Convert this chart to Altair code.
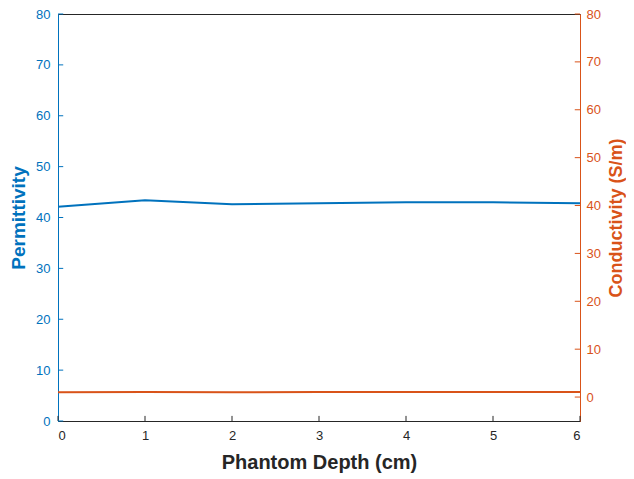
import altair as alt
import pandas as pd

depth = [0, 1, 2, 3, 4, 5, 6]
permittivity = [42.1, 43.4, 42.6, 42.8, 43.0, 43.0, 42.8]
conductivity = [1.0, 1.05, 1.0, 1.05, 1.05, 1.05, 1.05]
y_ticks = [0, 10, 20, 30, 40, 50, 60, 70, 80]

df = pd.DataFrame({"depth": depth, "perm": permittivity, "cond": conductivity})
# inward tick marks (length expressed in data units of each scale)
xt = pd.DataFrame({"depth": depth, "y0": [0] * len(depth), "y1": [1.0] * len(depth)})
yt_left = pd.DataFrame({"v": y_ticks, "x0": [0.0] * len(y_ticks), "x1": [0.06] * len(y_ticks)})
yt_right = pd.DataFrame({"v": y_ticks, "x0": [6.0] * len(y_ticks), "x1": [5.94] * len(y_ticks)})

BLUE = "#0072BD"
ORANGE = "#D95319"
DARK = "#262626"
FONT = "Liberation Sans"

xscale = alt.Scale(domain=[0, 6], nice=False)
xaxis = alt.Axis(title="Phantom Depth (cm)", values=depth, format="d",
                 grid=False, domainColor=DARK, labelColor=DARK, ticks=False,
                 labelPadding=8, labelFontSize=13, titleFontSize=20,
                 titleFontWeight="bold", titleColor=DARK, titlePadding=10,
                 labelFont=FONT, titleFont=FONT)
lscale = alt.Scale(domain=[0, 80], nice=False)
laxis = alt.Axis(title="Permittivity", orient="left", values=y_ticks,
                 grid=False, domainColor=BLUE, labelColor=BLUE, ticks=False,
                 labelPadding=8, labelFontSize=13, titleFontSize=19,
                 titleFontWeight="bold", titleColor=BLUE, titlePadding=7,
                 labelFont=FONT, titleFont=FONT)
rscale = alt.Scale(domain=[-5, 80], nice=False)
raxis = alt.Axis(title="Conductivity (S/m)", orient="right", values=y_ticks,
                 grid=False, domainColor=ORANGE, labelColor=ORANGE, ticks=False,
                 labelPadding=6, labelFontSize=13, titleFontSize=18,
                 titleFontWeight="bold", titleColor=ORANGE, titlePadding=7,
                 titleAngle=270, titleBaseline="top", labelFont=FONT, titleFont=FONT)

left_line = alt.Chart(df).mark_line(color=BLUE, strokeWidth=2).encode(
    x=alt.X("depth:Q", scale=xscale, axis=xaxis),
    y=alt.Y("perm:Q", scale=lscale, axis=laxis),
)
x_ticks = alt.Chart(xt).mark_rule(color=DARK, strokeWidth=1).encode(
    x=alt.X("depth:Q", scale=xscale, axis=xaxis),
    y=alt.Y("y0:Q", scale=lscale, axis=laxis),
    y2="y1:Q",
)
l_ticks = alt.Chart(yt_left).mark_rule(color=BLUE, strokeWidth=1).encode(
    x=alt.X("x0:Q", scale=xscale, axis=xaxis),
    x2="x1:Q",
    y=alt.Y("v:Q", scale=lscale, axis=laxis),
)
right_line = alt.Chart(df).mark_line(color=ORANGE, strokeWidth=2).encode(
    x=alt.X("depth:Q", scale=xscale, axis=xaxis),
    y=alt.Y("cond:Q", scale=rscale, axis=raxis),
)
r_ticks = alt.Chart(yt_right).mark_rule(color=ORANGE, strokeWidth=1).encode(
    x=alt.X("x0:Q", scale=xscale, axis=xaxis),
    x2="x1:Q",
    y=alt.Y("v:Q", scale=rscale, axis=raxis),
)

chart = alt.layer(
    alt.layer(x_ticks, l_ticks, left_line),
    alt.layer(r_ticks, right_line),
).resolve_scale(y="independent").properties(
    width=522, height=407,
    autosize=alt.AutoSizeParams(type="none"),
    padding={"left": 50, "top": 6, "right": 46, "bottom": 56},
).configure_view(stroke=DARK, strokeWidth=1)

chart.save("out.html", embed_options={"renderer": "svg", "actions": False})
